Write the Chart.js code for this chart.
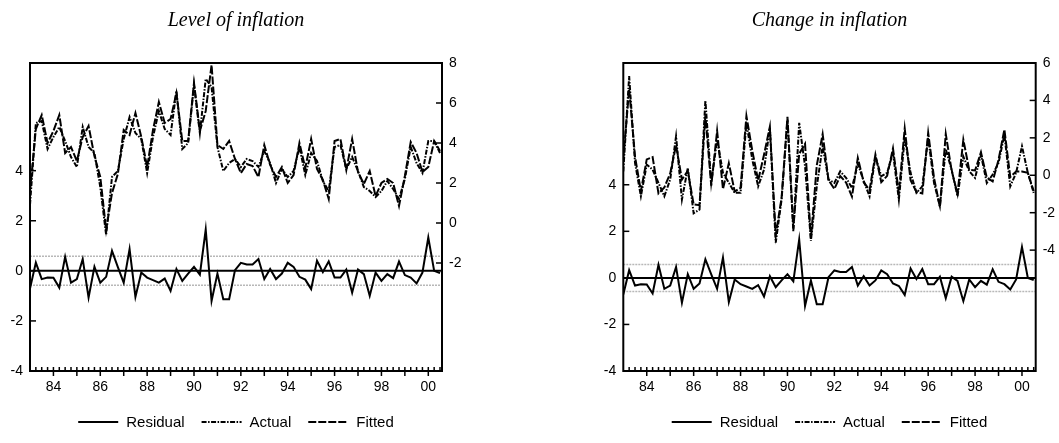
<!DOCTYPE html>
<html><head><meta charset="utf-8">
<script src="https://cdn.jsdelivr.net/npm/chart.js@4.4.1/dist/chart.umd.min.js"></script>
<style>
html,body{margin:0;padding:0;background:#fff;}
#wrap{position:relative;width:1059px;height:443px;overflow:hidden;}
.panel{position:absolute;top:0;height:443px;}
</style></head><body>
<div id="wrap">
<div class="panel" style="left:0;width:530px"><canvas id="c1" width="530" height="443"></canvas></div>
<div class="panel" style="left:530px;width:529px"><canvas id="c2" width="529" height="443"></canvas></div>
</div>
<script>
// ---------- DATA ----------
const quarters = [
 '1983Q1','1983Q2','1983Q3','1983Q4','1984Q1','1984Q2','1984Q3','1984Q4','1985Q1','1985Q2',
 '1985Q3','1985Q4','1986Q1','1986Q2','1986Q3','1986Q4','1987Q1','1987Q2','1987Q3','1987Q4',
 '1988Q1','1988Q2','1988Q3','1988Q4','1989Q1','1989Q2','1989Q3','1989Q4','1990Q1','1990Q2',
 '1990Q3','1990Q4','1991Q1','1991Q2','1991Q3','1991Q4','1992Q1','1992Q2','1992Q3','1992Q4',
 '1993Q1','1993Q2','1993Q3','1993Q4','1994Q1','1994Q2','1994Q3','1994Q4','1995Q1','1995Q2',
 '1995Q3','1995Q4','1996Q1','1996Q2','1996Q3','1996Q4','1997Q1','1997Q2','1997Q3','1997Q4',
 '1998Q1','1998Q2','1998Q3','1998Q4','1999Q1','1999Q2','1999Q3','1999Q4','2000Q1','2000Q2',
 '2000Q3'];

const residual = [
 -0.71,0.33,-0.33,-0.27,-0.28,-0.67,0.56,-0.47,-0.33,0.47,
 -1.07,0.16,-0.47,-0.24,0.80,0.15,-0.47,0.87,-1.04,-0.07,
 -0.27,-0.37,-0.47,-0.31,-0.80,0.07,-0.40,-0.11,0.16,-0.15,
 1.65,-1.20,-0.11,-1.13,-1.13,0.03,0.32,0.25,0.25,0.47,
 -0.33,0.07,-0.33,-0.11,0.32,0.16,-0.24,-0.35,-0.73,0.40,
 -0.05,0.38,-0.27,-0.27,0.05,-0.87,0.05,-0.13,-1.00,-0.07,
 -0.40,-0.13,-0.29,0.37,-0.17,-0.27,-0.50,-0.07,1.33,0.00,
 -0.09];

const levelActual = [
 0.9,5.0,5.1,3.7,4.3,4.8,4.1,3.3,2.8,4.8,
 3.8,3.5,1.8,-0.6,2.3,2.6,4.2,5.3,4.5,4.2,
 2.5,4.3,5.6,4.7,4.4,6.6,3.7,4.0,6.9,4.5,
 7.2,6.8,3.8,2.6,3.0,3.2,2.8,3.2,3.1,2.8,
 3.6,3.0,2.0,2.7,2.3,2.6,3.8,2.4,3.5,3.1,
 2.1,1.6,3.8,3.9,2.7,3.3,2.6,1.8,1.6,1.3,
 1.6,2.1,1.7,1.2,2.2,3.8,3.0,2.5,4.1,4.1,
 3.5];

const levelFitted = [
 1.6,4.7,5.4,4.0,4.6,5.4,3.5,3.8,3.1,4.3,
 4.85,3.35,2.3,-0.35,1.5,2.45,4.65,4.4,5.5,4.3,
 2.8,4.65,6.05,5.0,5.2,6.5,4.1,4.1,7.0,4.6,
 5.6,7.9,3.9,3.7,4.1,3.2,2.5,2.95,2.85,2.3,
 3.9,2.9,2.3,2.8,2.0,2.4,4.0,2.75,4.2,2.7,
 2.15,1.2,4.1,4.2,2.65,4.2,2.55,1.95,2.6,1.35,
 2.0,2.2,2.0,0.85,2.35,4.05,3.5,2.55,2.8,4.1,
 3.6];

const changeActual = [
 0.2,5.3,0.66,-1.12,0.57,0.3,-0.41,-1.12,-0.23,2.08,
 -1.3,0.39,-2.03,-1.83,4.0,-0.41,1.9,0.13,-0.4,-0.94,
 -0.94,2.8,0.84,-0.59,0.3,2.53,-3.6,-1.3,2.97,-3.0,
 2.8,0.48,-3.5,-0.6,1.55,-0.23,-0.41,0.21,-0.14,-0.67,
 0.6,-0.3,-1.12,1.0,-0.05,0.13,1.2,-1.3,2.0,0.13,
 -0.94,-0.59,2.0,-0.41,-1.65,1.4,0.3,-1.12,1.0,0.22,
 -0.14,1.1,-0.41,0.04,0.66,2.17,-0.59,0.13,1.55,0.13,
 -0.94];

const changeFitted = [
 0.9,4.6,1.0,-0.85,0.85,0.97,-0.97,-0.65,0.1,1.6,
 -0.23,0.23,-1.56,-1.6,3.2,-0.56,2.37,-0.74,0.64,-0.87,
 -0.67,3.17,1.31,-0.28,1.1,2.6,-3.2,-1.2,3.13,-2.85,
 1.15,1.68,-3.4,0.53,2.2,-0.26,-0.73,-0.04,-0.39,-1.14,
 0.93,-0.37,-0.79,1.1,-0.37,-0.03,1.44,-0.95,2.5,-0.27,
 -0.89,-0.97,2.27,-0.14,-1.7,2.2,0.25,-0.99,1.9,0.29,
 0.26,1.23,-0.12,-0.33,0.83,2.44,-0.09,0.2,0.2,0.13,
 -0.85];

const residualSE = 0.58;
const xLabelYears = [1984,1986,1988,1990,1992,1994,1996,1998,2000];
const xTickLabels = ['84','86','88','90','92','94','96','98','00'];
const residTicks = [-4,-2,0,2,4];
const levelTicks = [-2,0,2,4,6,8];
const changeTicks = [-4,-2,0,2,4,6];
const titles = ['Level of inflation','Change in inflation'];
const legendLabels = ['Residual','Actual','Fitted'];

// ---------- STYLE / HELPERS ----------
const FONT = "'Liberation Sans', Arial, sans-serif";
const DASH_ACTUAL = [5,1.5,1.5,1.5];
const DASH_FITTED = [8,2];
const qPos = quarters.map(q => +q.slice(0,4) + (+q.slice(5) - 1) / 4);
const pts = arr => arr.map((v,i) => ({x: qPos[i], y: v}));

function seg(ctx,x1,y1,x2,y2){ctx.beginPath();ctx.moveTo(x1,y1);ctx.lineTo(x2,y2);ctx.stroke();}

const panelPlugin = {
  id: 'panel',
  beforeDatasetsDraw(chart, args, opts) {
    const {ctx, chartArea: a, scales} = chart;
    const y = scales.y;
    ctx.save();
    ctx.strokeStyle = '#b8b8b8'; ctx.lineWidth = 1.5; ctx.setLineDash([2,1]);
    [residualSE, -residualSE].forEach(v => { const p = y.getPixelForValue(v); seg(ctx, a.left, p, a.right, p); });
    ctx.setLineDash([]); ctx.strokeStyle = '#000'; ctx.lineWidth = 2;
    const p0 = y.getPixelForValue(0); seg(ctx, a.left, p0, a.right, p0);
    ctx.restore();
  },
  afterDraw(chart, args, opts) {
    const {ctx, chartArea: a, scales} = chart;
    ctx.save();
    ctx.strokeStyle = '#000'; ctx.lineWidth = 2; ctx.setLineDash([]);
    ctx.strokeRect(a.left, a.top, a.right - a.left, a.bottom - a.top);
    // y ticks (inward)
    ctx.lineWidth = 1.5;
    residTicks.forEach(v => { const p = scales.y.getPixelForValue(v); if (p < a.bottom - 1) seg(ctx, a.left, p, a.left + 6, p); });
    opts.rightTicks.forEach(v => { const p = scales.y1.getPixelForValue(v); if (p > a.top + 1 && p < a.bottom - 1) seg(ctx, a.right - 6, p, a.right, p); });
    // x ticks
    qPos.forEach(t => { const p = scales.x.getPixelForValue(t); if (p > a.left + 1) seg(ctx, p, a.bottom, p, a.bottom - 4); });
    for (let yr = 1984; yr <= 2000; yr++) { const p = scales.x.getPixelForValue(yr); seg(ctx, p, a.bottom, p, a.bottom + 5); }
    // title
    const cx = (a.left + a.right) / 2;
    ctx.fillStyle = '#000';
    ctx.font = "italic 20px 'Liberation Serif', 'Times New Roman', serif";
    ctx.textAlign = 'center'; ctx.textBaseline = 'middle';
    ctx.fillText(opts.title, cx, 21);
    // legend
    ctx.font = '15px ' + FONT;
    ctx.textAlign = 'left';
    const dashes = [[], DASH_ACTUAL, DASH_FITTED];
    const sample = 40, gapS = 8, gapI = 17;
    let total = 0;
    legendLabels.forEach((l,k) => { total += sample + gapS + ctx.measureText(l).width + (k < legendLabels.length - 1 ? gapI : 0); });
    let x = cx - total / 2; const ly = 422;
    legendLabels.forEach((l,k) => {
      ctx.lineWidth = 2; ctx.setLineDash(dashes[k]);
      seg(ctx, x, ly, x + sample, ly);
      ctx.setLineDash([]);
      ctx.fillText(l, x + sample + gapS, ly + 1);
      x += sample + gapS + ctx.measureText(l).width + gapI;
    });
    ctx.restore();
  }
};

function buildChart(id, o) {
  const tickFont = {family: FONT, size: 14};
  return new Chart(document.getElementById(id), {
    type: 'line',
    data: { datasets: [
      {label: legendLabels[0], data: pts(residual), yAxisID: 'y', borderColor: '#000', borderWidth: 2, pointRadius: 0, tension: 0},
      {label: legendLabels[1], data: pts(o.actual), yAxisID: 'y1', borderColor: '#000', borderWidth: 2, borderDash: DASH_ACTUAL, pointRadius: 0, tension: 0},
      {label: legendLabels[2], data: pts(o.fitted), yAxisID: 'y1', borderColor: '#000', borderWidth: 2, borderDash: DASH_FITTED, pointRadius: 0, tension: 0}
    ]},
    options: {
      responsive: false, animation: false, events: [],
      layout: {padding: {left: o.padL, right: o.padR, top: 63, bottom: 42}},
      plugins: {legend: {display: false}, tooltip: {enabled: false}, title: {display: false},
                panel: {title: o.title, rightTicks: o.rightTicks}},
      scales: {
        x: {type: 'linear', min: 1983, max: 2000.585, grid: {display: false, drawTicks: false}, border: {display: false},
            afterBuildTicks: s => { s.ticks = xLabelYears.map(v => ({value: v})); },
            afterFit: s => { s.height = 30; },
            ticks: {padding: 8, color: '#000', font: tickFont, maxRotation: 0, autoSkip: false,
                    callback: v => xTickLabels[xLabelYears.indexOf(v)]}},
        y: {type: 'linear', position: 'left', min: -4, max: o.residMax, grid: {display: false, drawTicks: false}, border: {display: false},
            afterBuildTicks: s => { s.ticks = residTicks.map(v => ({value: v})); },
            afterFit: s => { s.width = o.leftW; },
            ticks: {padding: 7, color: '#000', font: tickFont, autoSkip: false}},
        y1: {type: 'linear', position: 'right', min: o.rightMin, max: o.rightMax, grid: {display: false, drawTicks: false}, border: {display: false},
            afterBuildTicks: s => { s.ticks = o.rightTicks.map(v => ({value: v})); },
            afterFit: s => { s.width = o.rightW; },
            ticks: {padding: 7, color: '#000', font: tickFont, autoSkip: false}}
      }
    },
    plugins: [panelPlugin]
  });
}

buildChart('c1', {title: titles[0], actual: levelActual, fitted: levelFitted,
  padL: 0, leftW: 30, padR: 58, rightW: 30, residMax: 8.3, rightMin: -7.4, rightMax: 8, rightTicks: levelTicks});
buildChart('c2', {title: titles[1], actual: changeActual, fitted: changeFitted,
  padL: 63.3, leftW: 30, padR: 0, rightW: 23.3, residMax: 9.23, rightMin: -10.46, rightMax: 6, rightTicks: changeTicks});
</script>
</body></html>
